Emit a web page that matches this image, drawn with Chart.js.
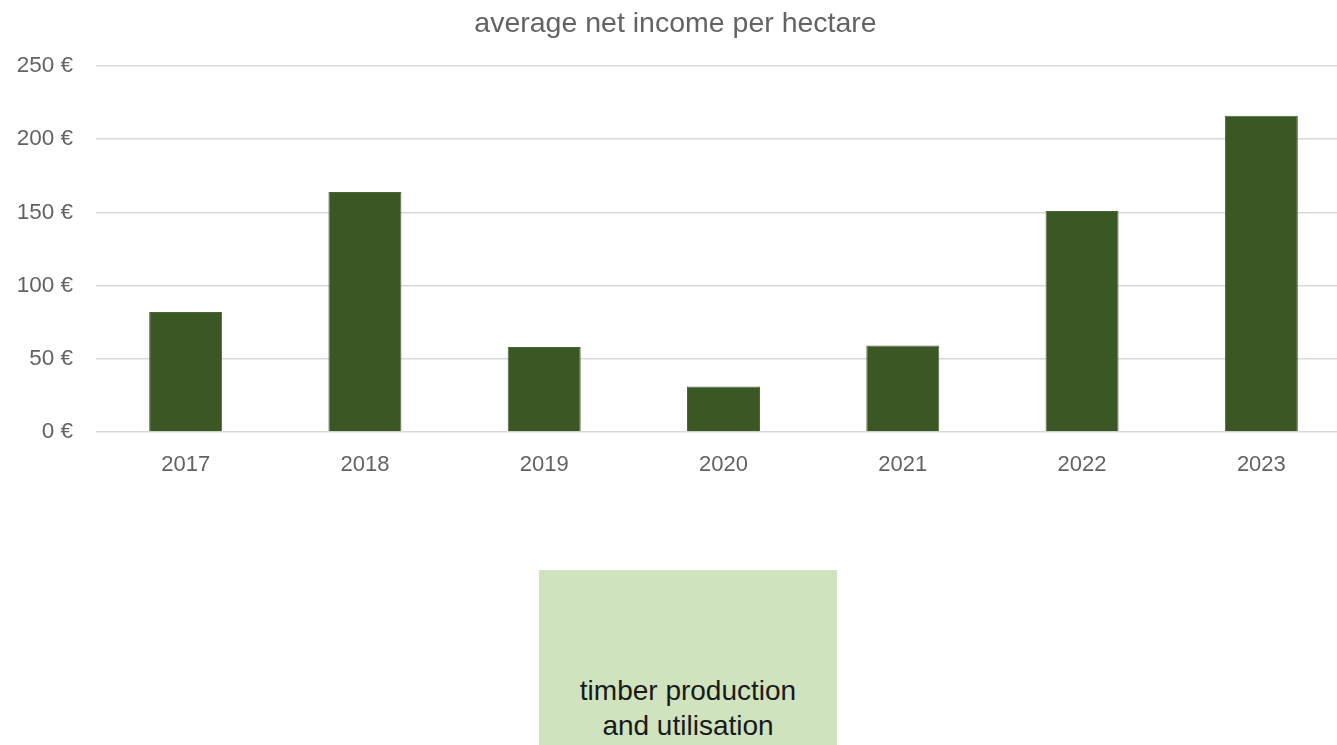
<!DOCTYPE html>
<html>
<head>
<meta charset="utf-8">
<script src="https://cdn.jsdelivr.net/npm/chart.js@4"></script>
<style>
  html, body { margin: 0; padding: 0; background: #ffffff; }
  body { width: 1337px; height: 745px; position: relative; overflow: hidden; font-family: "Liberation Sans", Arial, sans-serif; }
  #wrap { position: absolute; left: 0; top: 0; width: 1351px; height: 480px; }
  #box { position: absolute; left: 539px; top: 570px; width: 298px; height: 190px; background: #cfe3bf;
         box-sizing: border-box; text-align: center; color: #1a1a1a; font-size: 28px; line-height: 35px;
         padding-top: 103px; white-space: nowrap; }
</style>
</head>
<body>
<div id="wrap"><canvas id="c"></canvas></div>
<div id="box">timber production<br>and utilisation</div>
<script>
const years = ["2017", "2018", "2019", "2020", "2021", "2022", "2023"];
const netIncome = [82, 164, 58, 31, 59, 151, 216];
const yTicks = [0, 50, 100, 150, 200, 250];
const titleText = "average net income per hectare";

const FONT = '"Liberation Sans", Arial, sans-serif';
const ctx = document.getElementById('c');
new Chart(ctx, {
  type: 'bar',
  data: {
    labels: years,
    datasets: [{
      label: titleText,
      data: netIncome,
      backgroundColor: '#3b5724',
      borderColor: '#4a6636',
      borderWidth: 1,
      categoryPercentage: 1.0,
      barPercentage: 0.407
    }]
  },
  options: {
    responsive: true,
    maintainAspectRatio: false,
    animation: false,
    layout: { padding: 0 },
    plugins: {
      legend: { display: false },
      tooltip: { enabled: false },
      title: {
        display: true,
        text: titleText,
        color: '#636363',
        font: { family: FONT, size: 28.5, weight: 'normal' },
        padding: { top: 7, bottom: 24.8 }
      }
    },
    scales: {
      x: {
        grid: { display: false, drawTicks: false },
        border: { display: false },
        ticks: {
          color: '#636363',
          font: { family: FONT, size: 22 },
          padding: 20
        },
        afterFit: (s) => { s.height = 48; }
      },
      y: {
        min: 0, max: 250,
        afterBuildTicks: (s) => { s.ticks = yTicks.map(v => ({ value: v })); },
        grid: { color: '#d9d9d9', lineWidth: 1.5, drawTicks: false },
        border: { display: false },
        ticks: {
          color: '#636363',
          font: { family: FONT, size: 22.5 },
          padding: 23,
          callback: (v) => v + ' €'
        },
        afterFit: (s) => { s.width = 96; }
      }
    }
  }
});
</script>
</body>
</html>
